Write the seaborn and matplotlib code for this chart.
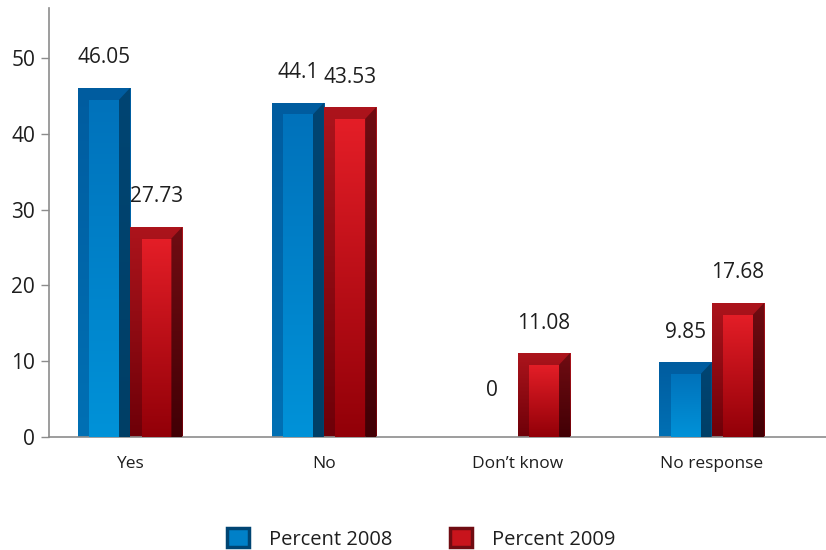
import numpy as np
import pandas as pd
import matplotlib
matplotlib.use("Agg")
import matplotlib.pyplot as plt
import seaborn as sns
from matplotlib.patches import Rectangle, Polygon, Patch
from matplotlib.colors import to_rgb

# -----------------------
# Data
# -----------------------
categories = ["Yes", "No", "Don\u2019t know", "No response"]
percent_2008 = [46.05, 44.1, 0, 9.85]
percent_2009 = [27.73, 43.53, 11.08, 17.68]
series_names = ["Percent 2008", "Percent 2009"]

df = pd.DataFrame({
    "category": categories * 2,
    "value": percent_2008 + percent_2009,
    "series": [series_names[0]] * 4 + [series_names[1]] * 4,
})

# bevel colours: frame (top, bottom), face (top, bottom), side (top, bottom)
styles = {
    "Percent 2008": dict(frame=("#005c9f", "#0070b4"), face=("#0072bb", "#0092d8"),
                         side=("#004573", "#003f66"), legend="#0080c8"),
    "Percent 2009": dict(frame=("#ac141c", "#6e0008"), face=("#e41e27", "#920008"),
                         side=("#700c12", "#420005"), legend="#c8141c"),
}

# -----------------------
# Figure setup
# -----------------------
sns.set_style("white")
plt.rcParams["font.family"] = ["Open Sans", "DejaVu Sans"]

fig = plt.figure(figsize=(8.26, 5.5), dpi=100)
ax = fig.add_axes([49 / 826, 1 - 437 / 550, 1 - 49 / 826, (437 - 8) / 550])

sns.barplot(data=df, x="category", y="value", hue="series", order=categories,
            hue_order=series_names, palette=[styles[s]["legend"] for s in series_names],
            width=0.54, gap=0, ax=ax, legend=False, saturation=1)


def gradient(extent, top, bottom, clip, z):
    t = np.linspace(0, 1, 64)[:, None]
    arr = (1 - t) * np.array(to_rgb(top)) + t * np.array(to_rgb(bottom))
    im = ax.imshow(arr[:, None, :], extent=extent, origin="upper", aspect="auto",
                   interpolation="bilinear", zorder=z)
    im.set_clip_path(clip)


bevel = 1.55  # depth of top bevel in data units
for series, container in zip(series_names, ax.containers):
    st = styles[series]
    for bar in container:
        x0, w, h = bar.get_x(), bar.get_width(), bar.get_height()
        bar.set_visible(False)
        if h <= 0:
            continue
        xi0, xi1 = x0 + 0.22 * w, x0 + 0.79 * w
        outer = Rectangle((x0, 0), w, h, transform=ax.transData, fc="none", lw=0)
        ax.add_patch(outer)
        gradient((x0, x0 + w, 0, h), *st["frame"], outer, 2)
        inner = Rectangle((xi0, 0), xi1 - xi0, h - bevel, transform=ax.transData, fc="none", lw=0)
        ax.add_patch(inner)
        gradient((xi0, xi1, 0, h - bevel), *st["face"], inner, 3)
        side = Polygon([(xi1, 0), (x0 + w, 0), (x0 + w, h), (xi1, h - bevel)],
                       closed=True, transform=ax.transData, fc="none", lw=0)
        ax.add_patch(side)
        gradient((xi1, x0 + w, 0, h), *st["side"], side, 3)

# value labels
for container, vals in zip(ax.containers, [percent_2008, percent_2009]):
    for bar, v in zip(container, vals):
        ax.annotate(f"{v:g}", (bar.get_x() + bar.get_width() / 2, bar.get_height()),
                    xytext=(0, 30 if v > 0 else 46), textcoords="offset pixels",
                    ha="center", va="center", fontsize=15, color="#1e1e1e")

# -----------------------
# Axes styling
# -----------------------
ax.set_xlim(-0.418, 3.59)
ax.set_ylim(0, 56.6)
ax.set_yticks([0, 10, 20, 30, 40, 50])
ax.set_xlabel("")
ax.set_ylabel("")
for s in ["top", "right"]:
    ax.spines[s].set_visible(False)
for s in ["left", "bottom"]:
    ax.spines[s].set_color("#8c8c8c")
    ax.spines[s].set_linewidth(1.2)
ax.tick_params(axis="y", left=True, length=6, width=1, color="#8c8c8c",
               labelsize=15, labelcolor="#1e1e1e", pad=4)
ax.tick_params(axis="x", bottom=False, labelsize=12.5, labelcolor="#1e1e1e", pad=10)

# legend
handles = [Patch(facecolor=styles[s]["legend"], edgecolor=styles[s]["side"][0], linewidth=2.5)
           for s in series_names]
fig.legend(handles, series_names, loc="center", bbox_to_anchor=(0.51, 0.02), ncol=2,
           frameon=False, fontsize=14.5, handlelength=1.05, handleheight=1.05,
           columnspacing=2.9, handletextpad=1.0, labelcolor="#1e1e1e")

fig.savefig("out.png", dpi=100)
